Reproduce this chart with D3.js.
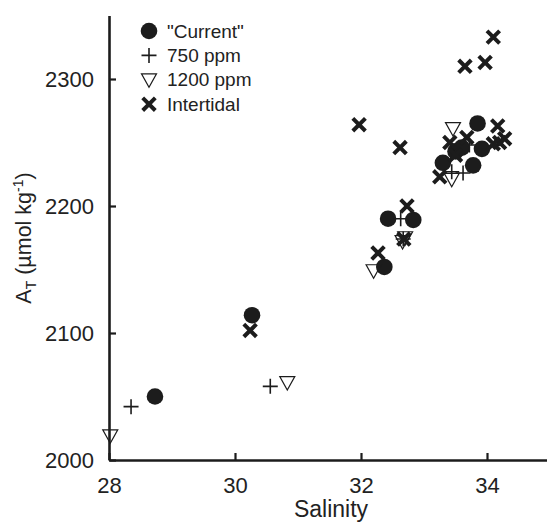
<!DOCTYPE html>
<html lang="en">
<head>
    <meta charset="utf-8">
    <title>Alkalinity vs salinity</title>
    <script src="https://cdn.jsdelivr.net/npm/d3@7"></script>
    <style>
        body { margin: 0; background: #fff; }
        svg text { font-family: "Liberation Sans", Arial, sans-serif; fill: #222; }
    </style>
</head>
<body>
<svg width="547" height="522"></svg>
<script>

    // salinity / total alkalinity
    var currentS   = [28.73, 30.27, 32.37, 32.43, 32.83, 33.30, 33.50, 33.60, 33.85, 33.92, 33.78];
    var currentA   = [2050, 2114, 2152, 2190, 2189, 2234, 2243, 2246, 2265, 2245, 2232];

    var ppm750S    = [28.35, 30.56, 32.63, 32.67, 33.44, 33.62, 33.72];
    var ppm750A    = [2042, 2058, 2190, 2174, 2227, 2226, 2248];

    var ppm1200S   = [28.02, 30.83, 32.20, 32.66, 32.70, 33.44, 33.46];
    var ppm1200A   = [2019, 2061, 2149, 2172, 2175, 2221, 2261];

    var tidalS     = [30.24, 31.97, 32.62, 33.65, 33.97, 34.10, 32.73, 32.27, 32.68,
                      34.17, 34.20, 34.28, 33.41, 33.68, 34.10, 33.25, 33.50];
    var tidalA     = [2102, 2264, 2246, 2310, 2313, 2333, 2200, 2163, 2174,
                      2263, 2250, 2253, 2250, 2254, 2249, 2223, 2240];

    var xTicks = [28, 30, 32, 34];
    var yTicks = [2000, 2100, 2200, 2300];
    var legendLabels = ['"Current"', "750 ppm", "1200 ppm", "Intertidal"];

    var svg = d3.select("svg");
    var ink = "#1c1c1c";

    var x = d3.scaleLinear().domain([28, 35]).range([109, 550]);
    var y = d3.scaleLinear().domain([2000, 2350]).range([460, 15.5]);

    // axes, ticks pointing inward
    var xAxis = svg.append("g")
        .attr("transform", "translate(0,460)")
        .call(d3.axisBottom(x).tickValues(xTicks).tickFormat(d3.format("d"))
            .tickSizeInner(-7).tickSizeOuter(0));
    var yAxis = svg.append("g")
        .attr("transform", "translate(109,0)")
        .call(d3.axisLeft(y).tickValues(yTicks).tickFormat(d3.format("d"))
            .tickSizeInner(-7).tickSizeOuter(0));

    [xAxis, yAxis].forEach(function (g) {
        g.select(".domain").attr("stroke", ink).attr("stroke-width", 2.6);
        g.selectAll(".tick line").attr("stroke", ink).attr("stroke-width", 2.2);
        g.selectAll(".tick text")
            .style("font-family", "'Liberation Sans', Arial, sans-serif")
            .style("font-size", "22px")
            .attr("fill", "#222");
    });
    xAxis.selectAll(".tick text").attr("dy", "0.71em").attr("y", 17);
    yAxis.selectAll(".tick text").attr("x", -15);

    // axis titles
    svg.append("text")
        .attr("x", 331).attr("y", 517)
        .attr("text-anchor", "middle")
        .style("font-size", "23px")
        .text("Salinity");

    var yt = svg.append("text")
        .attr("transform", "translate(31,238) rotate(-90)")
        .attr("text-anchor", "middle")
        .style("font-size", "21.5px");
    yt.append("tspan").text("A");
    yt.append("tspan").attr("dy", 5).style("font-size", "14px").text("T");
    yt.append("tspan").attr("dy", -5).text(" (\u00b5mol kg");
    yt.append("tspan").attr("dy", -8).style("font-size", "14px").text("-1");
    yt.append("tspan").attr("dy", 8).text(")");

    // marker drawers
    function drawCircle(g) {
        g.append("circle").attr("r", 8.3).attr("fill", ink);
    }
    function drawPlus(g) {
        g.append("path").attr("d", "M-7.5,0H7.5M0,-7.5V7.5")
            .attr("stroke", ink).attr("stroke-width", 1.6).attr("fill", "none");
    }
    function drawTri(g) {
        g.append("path").attr("d", "M-7.5,-6L7.5,-6L0,7.5Z")
            .attr("stroke", ink).attr("stroke-width", 1.2).attr("fill", "none");
    }
    function drawX(g) {
        g.append("path").attr("d", "M-6.3,-6.3L6.3,6.3M-6.3,6.3L6.3,-6.3")
            .attr("stroke", ink).attr("stroke-width", 4).attr("fill", "none");
    }

    function plotSeries(sx, sy, draw) {
        var pts = d3.zip(sx, sy);
        svg.append("g").selectAll("g")
            .data(pts)
            .enter().append("g")
            .attr("transform", function (d) { return "translate(" + x(d[0]) + "," + y(d[1]) + ")"; })
            .each(function () { draw(d3.select(this)); });
    }

    plotSeries(currentS, currentA, drawCircle);
    plotSeries(ppm750S, ppm750A, drawPlus);
    plotSeries(ppm1200S, ppm1200A, drawTri);
    plotSeries(tidalS, tidalA, drawX);

    // legend
    var drawers = [drawCircle, drawPlus, drawTri, drawX];
    var legend = svg.append("g").attr("transform", "translate(149,31)");
    legendLabels.forEach(function (label, i) {
        var row = legend.append("g").attr("transform", "translate(0," + (i * 24.4) + ")");
        drawers[i](row);
        row.append("text")
            .attr("x", 18).attr("y", 0).attr("dy", "0.35em")
            .style("font-size", "19px")
            .text(label);
    });

</script>
</body>
</html>
